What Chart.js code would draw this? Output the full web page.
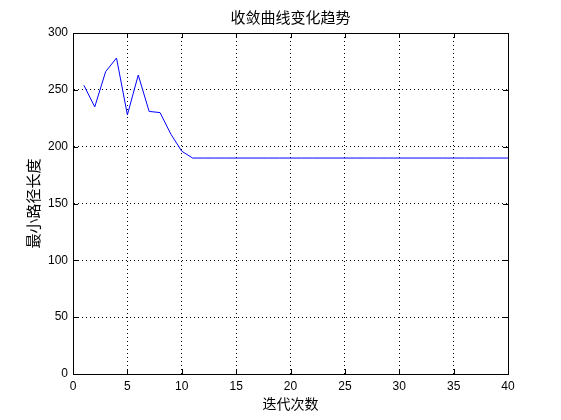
<!DOCTYPE html>
<html>
<head>
<meta charset="utf-8">
<script src="https://cdn.jsdelivr.net/npm/chart.js@4/dist/chart.umd.min.js"></script>
<style>
  html, body { margin: 0; padding: 0; background: #fff; }
  #wrap { width: 561px; height: 420px; }
</style>
</head>
<body>
<div id="wrap"><canvas id="myChart" width="561" height="420"></canvas></div>
<script>
// iteration number and best path length
var iterations = [1, 2, 3, 4, 5, 6, 7, 8, 9, 10,
    11, 12, 13, 14, 15, 16, 17, 18, 19, 20,
    21, 22, 23, 24, 25, 26, 27, 28, 29, 30,
    31, 32, 33, 34, 35, 36, 37, 38, 39, 40];
var pathLength = [254, 235, 266, 278, 228, 263, 231, 230, 211, 196,
    190, 190, 190, 190, 190, 190, 190, 190, 190, 190,
    190, 190, 190, 190, 190, 190, 190, 190, 190, 190,
    190, 190, 190, 190, 190, 190, 190, 190, 190, 190];
var xTicks = [0, 5, 10, 15, 20, 25, 30, 35, 40];
var yTicks = [0, 50, 100, 150, 200, 250, 300];

var chartTitle = '收敛曲线变化趋势';
var xTitle = '迭代次数';
var yTitle = '最小路径长度';

var points = [];
for (var i = 0; i < iterations.length; i++) {
    points.push({ x: iterations[i], y: pathLength[i] });
}

var FONT = "'Liberation Sans', 'Noto Sans CJK SC', sans-serif";
var CJK = "'Noto Sans CJK SC', sans-serif";

// box round the plot + inward tick marks, matlab style
var boxPlugin = {
    id: 'box',
    afterDatasetsDraw: function (chart) {
        var ctx = chart.ctx;
        var a = chart.chartArea;
        var xs = chart.scales.x, ys = chart.scales.y;
        ctx.save();
        ctx.strokeStyle = '#000';
        ctx.lineWidth = 1;
        ctx.beginPath();
        xTicks.forEach(function (v) {
            var px = Math.round(xs.getPixelForValue(v)) + 0.5;
            ctx.moveTo(px, a.bottom); ctx.lineTo(px, a.bottom - 5);
            ctx.moveTo(px, a.top); ctx.lineTo(px, a.top + 5);
        });
        yTicks.forEach(function (v) {
            var py = Math.round(ys.getPixelForValue(v)) + 0.5;
            ctx.moveTo(a.left, py); ctx.lineTo(a.left + 5, py);
            ctx.moveTo(a.right, py); ctx.lineTo(a.right - 5, py);
        });
        ctx.stroke();
        ctx.strokeRect(Math.round(a.left) + 0.5, Math.round(a.top) + 0.5,
            Math.round(a.right - a.left), Math.round(a.bottom - a.top));
        ctx.restore();
    }
};

var ctx = document.getElementById('myChart');
var chart = new Chart(ctx, {
    type: 'line',
    data: {
        datasets: [{
            label: yTitle,
            data: points,
            borderColor: '#0000ff',
            borderWidth: 1,
            pointRadius: 0,
            tension: 0,
            fill: false
        }]
    },
    options: {
        responsive: false,
        animation: false,
        layout: { padding: { top: 0, right: 53, bottom: 0, left: 0 } },
        plugins: {
            legend: { display: false },
            tooltip: { enabled: false },
            title: {
                display: true,
                fullSize: false, // centre over the plot, not the canvas
                text: chartTitle,
                color: '#000',
                font: { family: CJK, size: 15, weight: 'normal', lineHeight: 1.2 },
                padding: { top: 8, bottom: 7 }
            }
        },
        scales: {
            x: {
                type: 'linear',
                min: 0, max: 40,
                afterFit: function (s) { s.height = 46; },
                afterBuildTicks: function (s) { s.ticks = xTicks.map(function (v) { return { value: v }; }); },
                ticks: { color: '#000', font: { family: FONT, size: 12 }, padding: 5, maxRotation: 0 },
                grid: { color: '#000', lineWidth: 1, drawTicks: false },
                border: { display: true, color: '#000', dash: [1, 3] },
                title: {
                    display: true, text: xTitle, color: '#000',
                    font: { family: CJK, size: 14, lineHeight: 1.2 }, padding: 8
                }
            },
            y: {
                min: 0, max: 300,
                afterFit: function (s) { s.width = 73; },
                afterBuildTicks: function (s) { s.ticks = yTicks.map(function (v) { return { value: v }; }); },
                ticks: { color: '#000', font: { family: FONT, size: 12 }, padding: 5 },
                grid: { color: '#000', lineWidth: 1, drawTicks: false },
                border: { display: true, color: '#000', dash: [1, 3] },
                title: {
                    display: true, text: yTitle, color: '#000',
                    font: { family: CJK, size: 15, lineHeight: 1.2 }, padding: 24
                }
            }
        }
    },
    plugins: [boxPlugin]
});
</script>
</body>
</html>
